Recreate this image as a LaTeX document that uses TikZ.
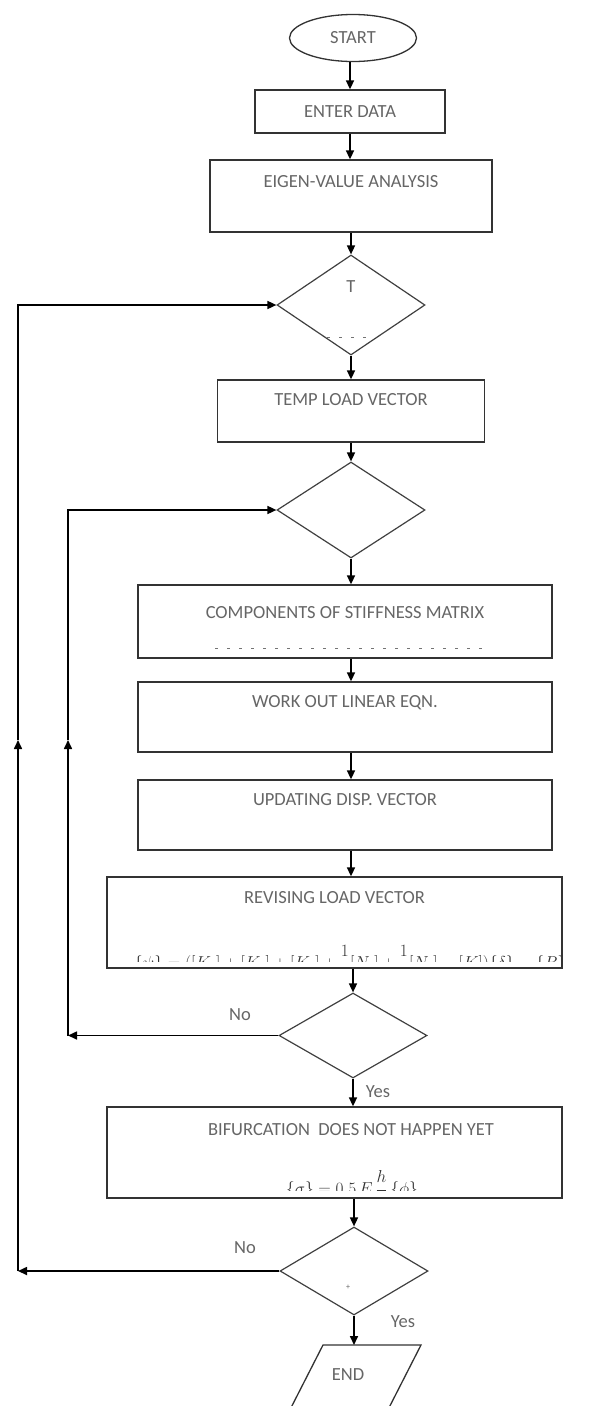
\documentclass[tikz,border=0pt]{standalone}
\usepackage{fontspec}
\setmainfont{Carlito}
\usetikzlibrary{arrows.meta,shapes.geometric,calc}
\begin{document}
\begin{tikzpicture}[x=1pt,y=-1pt,
  box/.style={draw=black!80,line width=1.3pt,inner sep=0pt,fill=white},
  dia/.style={diamond,draw=black!75,line width=1.2pt,inner sep=0pt},
  txt/.style={text=black!60,font=\fontsize{18.5}{21}\selectfont,inner sep=0pt},
  arr/.style={-{Triangle[length=9pt,width=8pt]},line width=1.6pt},
  ln/.style={line width=1.6pt},
  frm/.style={text=black!80,font=\fontsize{17}{20}\selectfont,inner sep=0pt,anchor=base},
  dsh/.style={draw=black!55,line width=0.8pt,dash pattern=on 3pt off 9pt}]
\useasboundingbox (0,0) rectangle (595,1406);
% shapes
\node[ellipse,draw=black!80,line width=1.3pt,minimum width=127pt,minimum height=47pt,inner sep=0pt] (start) at (353,38) {};
\node[txt] (starttxt) at (353,38) {START};
\node[box,minimum width=190pt,minimum height=43pt] (enter) at (350,111.5) {};
\node[txt] (entertxt) at (350,112) {ENTER DATA};
\node[box,minimum width=282pt,minimum height=72pt] (eigen) at (351,196) {};
\node[txt] (eigentxt) at (351,182) {EIGEN-VALUE ANALYSIS};
\node[dia,minimum width=148pt,minimum height=100pt] (d1) at (351,305) {};
\node[txt] (d1txt) at (351,287) {T};
\draw[dsh] (327,337) -- (369,337);
\node[box,minimum width=267pt,minimum height=62pt] (temp) at (351,411) {};
\node[txt] (temptxt) at (351,400) {TEMP LOAD VECTOR};
\node[dia,minimum width=148pt,minimum height=96pt] (d2) at (351,510) {};
\node[box,minimum width=414pt,minimum height=73pt] (comp) at (345,621.5) {};
\node[txt] (comptxt) at (345,613) {COMPONENTS OF STIFFNESS MATRIX};
\draw[dsh] (215,648) -- (487,648);
\node[box,minimum width=414pt,minimum height=70pt] (work) at (345,717) {};
\node[txt] (worktxt) at (345,703) {WORK OUT LINEAR EQN.};
\node[box,minimum width=414pt,minimum height=70pt] (upd) at (345,815) {};
\node[txt] (updtxt) at (345,800) {UPDATING DISP. VECTOR};
\node[box,minimum width=455pt,minimum height=91pt] (rev) at (334.5,922.5) {};
\node[txt] (revtxt) at (334.5,898) {REVISING LOAD VECTOR};
\begin{scope}
\clip (108,878) rectangle (561,961);
\node[frm] (revf) at (350,968.5) {$\displaystyle\{\psi\}=\bigl([K_0]+[K_1]+[K_2]+\frac{1}{2}[N_1]+\frac{1}{3}[N_2]-[K]\bigr)\{\delta\}-\{R\}$};
\end{scope}
\node[dia,minimum width=148pt,minimum height=85pt] (d3) at (353,1035.5) {};
\node[box,minimum width=455pt,minimum height=91pt] (bif) at (334.5,1152.5) {};
\node[txt] (biftxt) at (351,1130) {BIFURCATION\ \ DOES NOT HAPPEN YET};
\begin{scope}
\clip (108,1108) rectangle (561,1190);
\node[frm] (biff) at (352,1194.5) {$\displaystyle\{\sigma\}=0.5\,E\,\frac{h}{r}\,\{\phi\}$};
\end{scope}
\node[dia,minimum width=148pt,minimum height=88pt] (d4) at (354,1271) {};
\node[inner sep=0pt,text=black!60,font=\fontsize{8}{9}\selectfont] (d4txt) at (348,1287) {+};
% END parallelogram
\coordinate (endtop) at (372,1345);
\begin{scope}
\clip (0,0) rectangle (595,1406);
\draw[draw=black!80,line width=1.3pt] (323,1345) -- (421,1345) -- (372,1441) -- (274,1441) -- cycle;
\end{scope}
\node[txt] (endtxt) at (348,1375) {END};
% connectors
\draw[arr] (start.south -| enter.north) -- (enter.north);
\draw[arr] (enter.south) -- (enter.south |- eigen.north);
\draw[arr] (d1.north |- eigen.south) -- (d1.north);
\draw[arr] (d1.south) -- (temp.north);
\draw[arr] (temp.south) -- (d2.north);
\draw[arr] (d2.south) -- (d2.south |- comp.north);
\draw[arr] (d2.south |- comp.south) -- (d2.south |- work.north);
\draw[arr] (d2.south |- work.south) -- (d2.south |- upd.north);
\draw[arr] (d2.south |- upd.south) -- (d2.south |- rev.north);
\draw[arr] (d3.north |- rev.south) -- (d3.north);
\draw[arr] (d3.south) -- (d3.south |- bif.north);
\draw[arr] (d4.north |- bif.south) -- (d4.north);
\draw[arr] (d4.south) -- (d4.south |- endtop);
% inner loop
\coordinate (l3) at (68,1035.5);
\coordinate (m3) at (68,740);
\draw[arr] (d3.west) -- (l3);
\draw[arr] (l3) -- (m3);
\draw[arr] (m3) |- (d2.west);
\node[txt] (no3) at (240,1015) {No};
\node[txt] (yes3) at (378,1092) {Yes};
% outer loop
\coordinate (l4) at (18,1271);
\coordinate (m4) at (18,740);
\draw[arr] (d4.west) -- (l4);
\draw[arr] (l4) -- (m4);
\draw[arr] (m4) |- (d1.west);
\node[txt] (no4) at (245,1248) {No};
\node[txt] (yes4) at (403,1322) {Yes};
\end{tikzpicture}
\end{document}
